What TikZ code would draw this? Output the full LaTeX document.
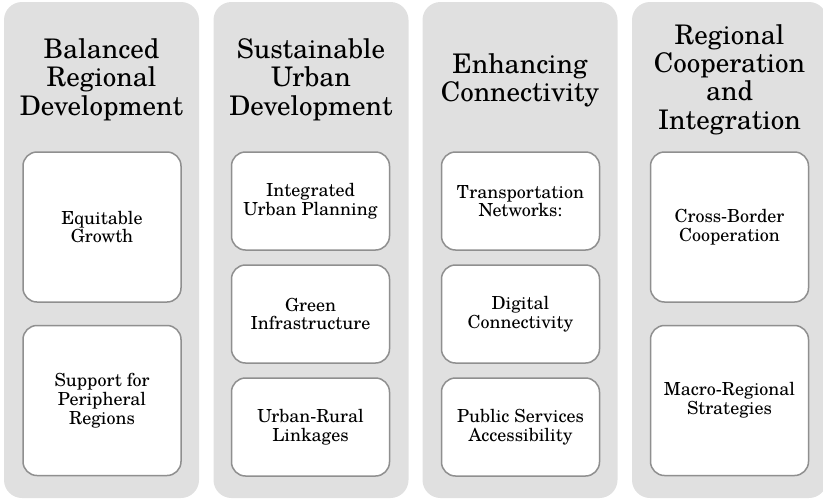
\documentclass[tikz,border=0pt]{standalone}
\usepackage{fontspec}
\setmainfont{texgyreschola-regular.otf}
\definecolor{bgray}{HTML}{E0E0E0}
\definecolor{bline}{HTML}{8F8F8F}
\begin{document}
\begin{tikzpicture}[x=1pt,y=-1pt,
  colbg/.style={fill=bgray, rounded corners=18pt, inner sep=0pt, minimum width=195pt, minimum height=496pt},
  hdr/.style={align=center, font=\fontsize{27}{28.3}\selectfont, inner sep=0pt},
  item/.style={draw=bline, line width=1.5pt, fill=white, rounded corners=14pt, align=center,
    font=\fontsize{18}{18.7}\selectfont, inner sep=0pt, minimum width=158pt},
  tall/.style={item, minimum height=150pt},
  short/.style={item, minimum height=98pt}]
\useasboundingbox (0,0) rectangle (823,499);
\clip (0,0) rectangle (823,499);
% column backgrounds
\node[colbg] (c1) at (101.5,250) {};
\node[colbg] (c2) at (311,250) {};
\node[colbg] (c3) at (520,250) {};
\node[colbg] (c4) at (729.5,250) {};
% headers
\node[hdr] (h1) at (101.5,79.5) {Balanced\\Regional\\Development};
\node[hdr] (h2) at (311,79.5) {Sustainable\\Urban\\Development};
\node[hdr] (h3) at (520,80.5) {Enhancing\\Connectivity};
\node[hdr] (h4) at (729.5,79.5) {Regional\\Cooperation\\and\\Integration};
% column 1
\node[tall] (a1) at (102,227) {Equitable\\Growth};
\node[tall] (a2) at (102,400.5) {Support for\\Peripheral\\Regions};
% column 2
\node[short] (b1) at (310.5,201) {Integrated\\Urban Planning};
\node[short] (b2) at (310.5,314) {Green\\Infrastructure};
\node[short] (b3) at (310.5,427) {Urban-Rural\\Linkages};
% column 3
\node[short] (d1) at (520.5,201) {Transportation\\Networks:};
\node[short] (d2) at (520.5,314) {Digital\\Connectivity};
\node[short] (d3) at (520.5,427) {Public Services\\Accessibility};
% column 4
\node[tall] (e1) at (729.5,227) {Cross-Border\\Cooperation};
\node[tall] (e2) at (729.5,400.5) {Macro-Regional\\Strategies};
\end{tikzpicture}
\end{document}
